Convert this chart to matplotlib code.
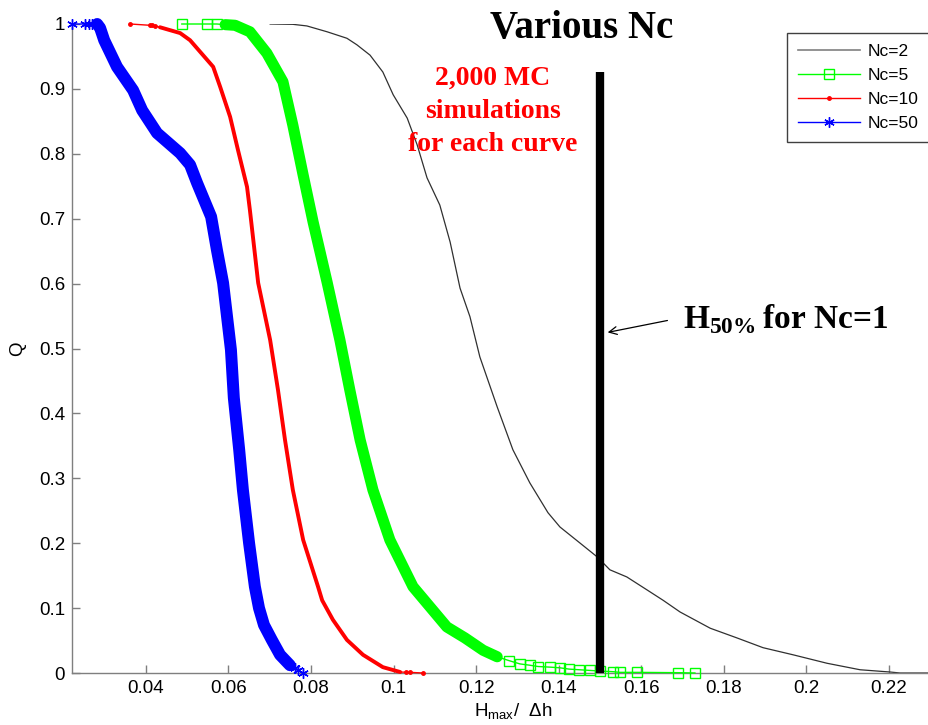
import matplotlib
matplotlib.use('Agg')
import matplotlib.pyplot as plt
from matplotlib.lines import Line2D
import numpy as np

plt.rcParams['mathtext.fontset'] = 'custom'
plt.rcParams['mathtext.rm'] = 'Liberation Serif:bold'
plt.rcParams['mathtext.sf'] = 'Liberation Sans'

# exceedance curves Q(H)
nc2_h = [0.0701, 0.0756, 0.0790, 0.0839, 0.0887, 0.0911, 0.0943, 0.0974, 0.0999, 0.1033,
         0.1057, 0.1081, 0.1112, 0.1137, 0.1161, 0.1185, 0.1209, 0.1251, 0.1289, 0.1330,
         0.1374, 0.1403, 0.1452, 0.1493, 0.1524, 0.1565, 0.1614, 0.1653, 0.1694, 0.1767,
         0.1832, 0.1895, 0.1968, 0.2050, 0.2130, 0.2203, 0.2227, 0.2297]
nc2_q = [1.0, 0.9995, 0.997, 0.988, 0.978, 0.968, 0.952, 0.926, 0.891, 0.855,
         0.814, 0.763, 0.721, 0.664, 0.593, 0.549, 0.487, 0.410, 0.344, 0.293,
         0.247, 0.225, 0.200, 0.179, 0.159, 0.148, 0.128, 0.112, 0.094, 0.069,
         0.054, 0.039, 0.028, 0.015, 0.005, 0.0015, 0.0, 0.0]

nc5_h = [0.0487, 0.0548, 0.0572, 0.0592, 0.0616, 0.0652, 0.0693, 0.0732, 0.0756, 0.0781,
         0.0805, 0.0839, 0.0870, 0.0894, 0.0919, 0.0950, 0.0991, 0.1047, 0.1129, 0.1173,
         0.1217, 0.1251, 0.1280, 0.1306, 0.1330, 0.1350, 0.1380, 0.1403, 0.1425, 0.1450,
         0.1475, 0.1500, 0.1532, 0.1548, 0.1590, 0.1689, 0.1730]
nc5_q = [1.0, 1.0, 1.0, 0.999, 0.998, 0.988, 0.955, 0.911, 0.844, 0.767,
         0.695, 0.602, 0.513, 0.436, 0.359, 0.282, 0.205, 0.133, 0.071, 0.054,
         0.035, 0.025, 0.019, 0.014, 0.012, 0.010, 0.009, 0.008, 0.006, 0.005,
         0.004, 0.003, 0.002, 0.001, 0.001, 0.0005, 0.0]

nc10_h = [0.0362, 0.0410, 0.0415, 0.0422, 0.0434, 0.0483, 0.0507, 0.0548, 0.0563, 0.0580,
          0.0604, 0.0623, 0.0645, 0.0652, 0.0672, 0.0701, 0.0720, 0.0737, 0.0756, 0.0781,
          0.0817, 0.0827, 0.0853, 0.0887, 0.0926, 0.0974, 0.1016, 0.1030, 0.1040, 0.1071]
nc10_q = [1.0, 0.998, 0.998, 0.997, 0.995, 0.986, 0.975, 0.945, 0.934, 0.903,
          0.857, 0.806, 0.749, 0.713, 0.601, 0.513, 0.436, 0.359, 0.282, 0.205,
          0.133, 0.112, 0.082, 0.051, 0.028, 0.009, 0.0015, 0.0012, 0.001, 0.0]

nc50_h = [0.0221, 0.0252, 0.0262, 0.0269, 0.0282, 0.0289, 0.0299, 0.0330, 0.0369, 0.0391,
          0.0427, 0.0483, 0.0507, 0.0524, 0.0558, 0.0572, 0.0587, 0.0606, 0.0613, 0.0626,
          0.0635, 0.0650, 0.0664, 0.0674, 0.0686, 0.0705, 0.0725, 0.0749, 0.0760, 0.0768,
          0.0781]
nc50_q = [1.0, 1.0, 1.0, 1.0, 1.0, 0.994, 0.975, 0.934, 0.898, 0.867,
          0.832, 0.801, 0.783, 0.755, 0.703, 0.652, 0.601, 0.498, 0.424, 0.344,
          0.282, 0.200, 0.133, 0.100, 0.074, 0.051, 0.028, 0.012, 0.008, 0.005,
          0.0]

legend_labels = ['Nc=2', 'Nc=5', 'Nc=10', 'Nc=50']
x_ticks = [0.04, 0.06, 0.08, 0.10, 0.12, 0.14, 0.16, 0.18, 0.20, 0.22]
x_tick_labels = ['0.04', '0.06', '0.08', '0.1', '0.12', '0.14', '0.16', '0.18', '0.2', '0.22']
y_ticks = [0, 0.1, 0.2, 0.3, 0.4, 0.5, 0.6, 0.7, 0.8, 0.9, 1.0]
y_tick_labels = ['0', '0.1', '0.2', '0.3', '0.4', '0.5', '0.6', '0.7', '0.8', '0.9', '1']

h50_nc1 = 0.15
h50_line_top = 0.926

W, H = 929, 725
fig = plt.figure(figsize=(W / 100, H / 100), dpi=100)
ax = fig.add_axes([72 / W, 52 / H, 857 / W, 649 / H])

star = (6, 2, 0)


def draw_curve(h, q, color, marker, ms, mfc, band_lw, core):
    h = np.asarray(h)
    q = np.asarray(q)
    m = (h >= core[0]) & (h <= core[1])
    # thin line through every point, markers only where the points are sparse
    ax.plot(h, q, color=color, lw=1, clip_on=False, zorder=3)
    ax.plot(h[~m], q[~m], ls='none', marker=marker, ms=ms, mfc=mfc, mec=color,
            mew=1, clip_on=False, zorder=3)
    # dense middle part, where the markers merge into a thick band
    ax.plot(h[m], q[m], color=color, lw=band_lw, solid_capstyle='round',
            solid_joinstyle='round', clip_on=False, zorder=3)


ax.plot(nc2_h, nc2_q, color='#303030', lw=0.9, zorder=2)
draw_curve(nc5_h, nc5_q, '#00ff00', 's', 6.5, 'none', 8.0, (0.059, 0.1255))
draw_curve(nc10_h, nc10_q, '#ff0000', 'o', 2.5, '#ff0000', 2.8, (0.043, 0.102))
draw_curve(nc50_h, nc50_q, '#0000ff', star, 7.5, 'none', 8.6, (0.028, 0.0755))

ax.vlines(h50_nc1, 0, h50_line_top, color='black', lw=6, zorder=4)

ax.set_xlim(0.0221, 0.2297)
ax.set_ylim(0, 1)
ax.set_xticks(x_ticks)
ax.set_xticklabels(x_tick_labels)
ax.set_yticks(y_ticks)
ax.set_yticklabels(y_tick_labels)
for s in ['top', 'right']:
    ax.spines[s].set_visible(False)
for s in ['left', 'bottom']:
    ax.spines[s].set_color('#7f7f7f')
    ax.spines[s].set_linewidth(1)
ax.tick_params(direction='in', length=6, width=1, color='#7f7f7f', pad=5)
for lab in ax.get_xticklabels() + ax.get_yticklabels():
    lab.set_fontfamily('Liberation Sans')
    lab.set_fontsize(13.5)

fig.text(18 / W, 1 - 349 / H, 'Q', rotation=90, ha='center', va='center',
         fontsize=13.5, family='Liberation Sans')
fig.text(474 / W, 1 - 717 / H, r'H$_{\mathsf{max}}$/  Δh', ha='left', va='baseline',
         fontsize=13.5, family='Liberation Sans')

fig.text(582 / W, 1 - 38 / H, 'Various Nc', ha='center', va='baseline',
         fontsize=28, fontweight='bold', family='Liberation Serif')
fig.text(493 / W, 1 - 66 / H, '2,000 MC\nsimulations\nfor each curve', ha='center',
         va='top', fontsize=20, fontweight='bold', family='Liberation Serif',
         color='#ff0000', linespacing=1.42)

ax.annotate('', xy=(0.1512, 0.524), xytext=(0.1670, 0.544),
            arrowprops=dict(arrowstyle='->', color='black', lw=0.9, mutation_scale=14))
fig.text(683 / W, 1 - 328 / H, r'H$_{50\%}\,$for Nc=1', ha='left', va='baseline',
         fontsize=24, fontweight='bold', family='Liberation Serif')

handles = [
    Line2D([], [], color='#808080', lw=1.2),
    Line2D([], [], color='#00ff00', lw=1, marker='s', ms=6.5, mfc='none', mec='#00ff00'),
    Line2D([], [], color='#ff0000', lw=1, marker='o', ms=2.5, mfc='#ff0000', mec='#ff0000'),
    Line2D([], [], color='#0000ff', lw=1, marker=star, ms=7.5, mec='#0000ff'),
]
leg = ax.legend(handles, legend_labels, loc='upper left',
                bbox_to_anchor=(787 / W, 1 - 33 / H), bbox_transform=fig.transFigure,
                frameon=True, fancybox=False, edgecolor='#404040', framealpha=1,
                borderaxespad=0, handlelength=3.6, handletextpad=0.4,
                labelspacing=0.52, borderpad=0.62, numpoints=1,
                prop={'family': 'Liberation Sans', 'size': 12.5})
leg.get_frame().set_linewidth(1)
leg.set_zorder(5)

fig.savefig('out.png', dpi=100)
